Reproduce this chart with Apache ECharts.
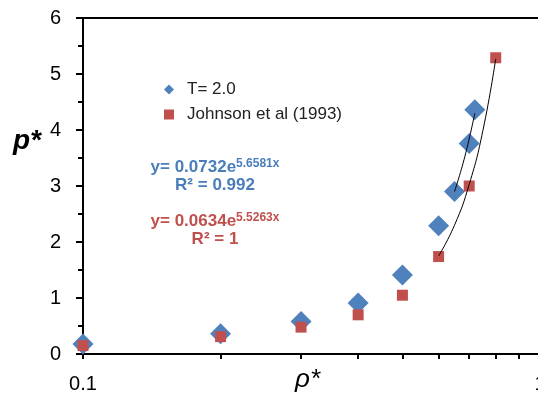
<!DOCTYPE html>
<html>
<head>
<meta charset="utf-8">
<script src="https://cdn.jsdelivr.net/npm/echarts@6/dist/echarts.min.js"></script>
<style>
html,body{margin:0;padding:0;background:#fff;}
#c{width:538px;height:399px;}
</style>
</head>
<body>
<div id="c"></div>
<script>
// ---- data ----
const seriesNames = ['T= 2.0', 'Johnson et al (1993)'];
const rhoT = [0.1, 0.2, 0.3, 0.4, 0.5, 0.6, 0.65, 0.7, 0.72];
const pT   = [0.18, 0.36, 0.58, 0.91, 1.41, 2.29, 2.90, 3.76, 4.36];
const rhoJ = [0.1, 0.2, 0.3, 0.4, 0.5, 0.6, 0.7, 0.8];
const pJ   = [0.15, 0.31, 0.48, 0.70, 1.05, 1.74, 3.00, 5.29];
// trend lines
const trendRhoT = [0.65, 0.685, 0.72];
const trendPT   = [2.90, 3.53, 4.30];
const trendRhoJ = [0.6, 0.65, 0.7, 0.75, 0.8];
const trendPJ   = [1.75, 2.30, 3.03, 3.99, 5.27];
const xTickValues = [0.1, 0.2, 0.3, 0.4, 0.5, 0.6, 0.7, 0.8, 0.9, 1];
const eqT = ['0.0732', '5.6581x', '0.992'];
const eqJ = ['0.0634', '5.5263x', '1'];

const BLUE = '#4F81BD', RED = '#C0504D';
const BLUE_T = '#4A7EBB', RED_T = '#C0504D';
const zip = (a, b) => a.map((v, i) => [v, b[i]]);

const chart = echarts.init(document.getElementById('c'), null, {renderer: 'canvas'});
const eqRich = (color) => ({
  m: {fontFamily: 'Arial, Liberation Sans', fontWeight: 'bold', fontSize: 17, fill: color, lineHeight: 18},
  s: {fontFamily: 'Arial, Liberation Sans', fontWeight: 'bold', fontSize: 12, fill: color, verticalAlign: 'top', lineHeight: 18, padding: [0, 0, 6, 0]}
});
chart.setOption({
  animation: false,
  backgroundColor: '#fff',
  grid: {left: 83, top: 18, width: 457, height: 336, show: true, borderColor: '#000', borderWidth: 2,
         backgroundColor: 'transparent', containLabel: false, outerBoundsMode: 'none'},
  legend: {
    data: seriesNames,
    orient: 'vertical',
    left: 159,
    top: 76,
    itemWidth: 10,
    itemHeight: 10,
    itemGap: 8,
    textStyle: {fontFamily: 'Arial, Liberation Sans', fontSize: 17, color: '#222', lineHeight: 17, padding: [0, 0, 0, 8]},
    selectedMode: false
  },
  xAxis: {
    type: 'log', logBase: 10, min: 0.1, max: 1,
    axisLine: {lineStyle: {color: '#000', width: 2}},
    axisTick: {show: true, length: 5, lineStyle: {color: '#000', width: 2}, customValues: xTickValues},
    axisLabel: {fontFamily: 'Arial, Liberation Sans', fontSize: 20, color: '#000', margin: 20},
    splitLine: {show: false},
    minorTick: {show: false}
  },
  yAxis: {
    type: 'value', min: 0, max: 6, interval: 1,
    axisLine: {show: true, lineStyle: {color: '#000', width: 2}},
    axisTick: {show: true, length: 7, lineStyle: {color: '#000', width: 2}},
    minorTick: {show: true, splitNumber: 2, length: 5, lineStyle: {color: '#000', width: 2}},
    axisLabel: {fontFamily: 'Arial, Liberation Sans', fontSize: 20, color: '#000', margin: 22},
    splitLine: {show: false}
  },
  graphic: [
    {type: 'text', left: 13, top: 127, style: {text: 'p*', font: 'italic bold 28px Arial, Liberation Sans', fill: '#000'}},
    {type: 'text', left: 295, top: 367, style: {text: 'ρ*', font: 'italic 26px Arial, Liberation Sans', fill: '#000'}},
    {type: 'text', x: 215, y: 158, style: {text: '{m|y= ' + eqT[0] + 'e}{s|' + eqT[1] + '}\n{m|R² = ' + eqT[2] + '}', rich: eqRich(BLUE_T), align: 'center'}},
    {type: 'text', x: 215, y: 212, style: {text: '{m|y= ' + eqJ[0] + 'e}{s|' + eqJ[1] + '}\n{m|R² = ' + eqJ[2] + '}', rich: eqRich(RED_T), align: 'center'}}
  ],
  series: [
    {name: seriesNames[0], type: 'scatter', symbol: 'diamond', symbolSize: 21, itemStyle: {color: BLUE, opacity: 1}, data: zip(rhoT, pT), z: 2},
    {name: seriesNames[1], type: 'scatter', symbol: 'rect', symbolSize: 11, itemStyle: {color: RED, opacity: 1}, data: zip(rhoJ, pJ), z: 3},
    {name: 'trendT', type: 'line', smooth: true, showSymbol: false, symbol: 'none', lineStyle: {color: '#000', width: 1}, data: zip(trendRhoT, trendPT), z: 4},
    {name: 'trendJ', type: 'line', smooth: true, showSymbol: false, symbol: 'none', lineStyle: {color: '#000', width: 1}, data: zip(trendRhoJ, trendPJ), z: 4}
  ]
});
</script>
</body>
</html>
